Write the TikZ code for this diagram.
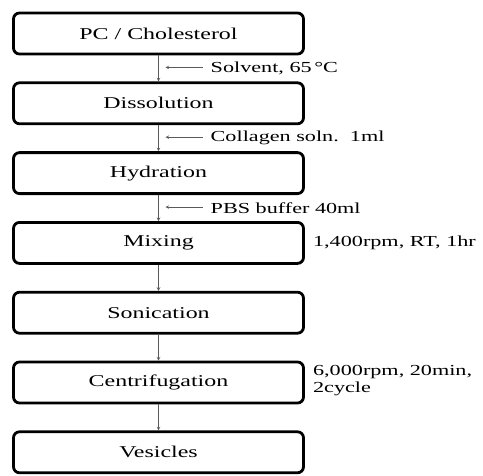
\documentclass[tikz,border=0pt]{standalone}
\usepackage{fontspec}
\setmainfont{Liberation Serif}[FakeStretch=1.45]
\usetikzlibrary{positioning}
\begin{document}
\begin{tikzpicture}[x=1pt,y=1pt,
  stepbox/.style={draw,line width=2.8pt,rounded corners=6pt,fill=white,
    minimum width=290pt,minimum height=41pt,font=\fontsize{16.5}{18}\selectfont},
  flow/.style={->,gray!70!black,line width=.6pt,>=stealth},
  note/.style={inner sep=0pt,font=\fontsize{15.3}{17}\selectfont,align=left}]
  \useasboundingbox (0,0) rectangle (483,-475);
  \node[stepbox] (pc) at (158.5,-33.5) {PC / Cholesterol};
  \node[stepbox,below=26pt of pc] (dis) {Dissolution};
  \node[stepbox,below=26pt of dis] (hyd) {Hydration};
  \node[stepbox,below=26pt of hyd] (mix) {Mixing};
  \node[stepbox,below=26pt of mix] (son) {Sonication};
  \node[stepbox,below=26pt of son] (cen) {Centrifugation};
  \node[stepbox,below=26pt of cen] (ves) {Vesicles};
  \foreach \a/\b in {pc/dis,dis/hyd,hyd/mix,mix/son,son/cen,cen/ves}
    \draw[flow] (\a.south) -- (\b.north);
  % what goes in between
  \path (pc) -- (dis) coordinate[midway] (m1);
  \path (dis) -- (hyd) coordinate[midway] (m2);
  \path (hyd) -- (mix) coordinate[midway] (m3);
  \node[note,right=52pt of m1] (solv) {Solvent, 65\,°C};
  \node[note,right=52pt of m2] (coll) {Collagen soln.\ \ 1ml};
  \node[note,right=52pt of m3] (pbs) {PBS buffer 40ml};
  \foreach \l/\m in {solv/m1,coll/m2,pbs/m3}
    \draw[flow] ([xshift=-8pt,yshift=1pt]\l.west) -- ([xshift=7pt,yshift=1pt]\m);
  % conditions
  \node[note,right=8pt of mix] (rpm1) {1,400rpm, RT, 1hr};
  \node[note,right=8pt of cen,yshift=2pt] (rpm2) {6,000rpm, 20min,\\2cycle};
\end{tikzpicture}
\end{document}
